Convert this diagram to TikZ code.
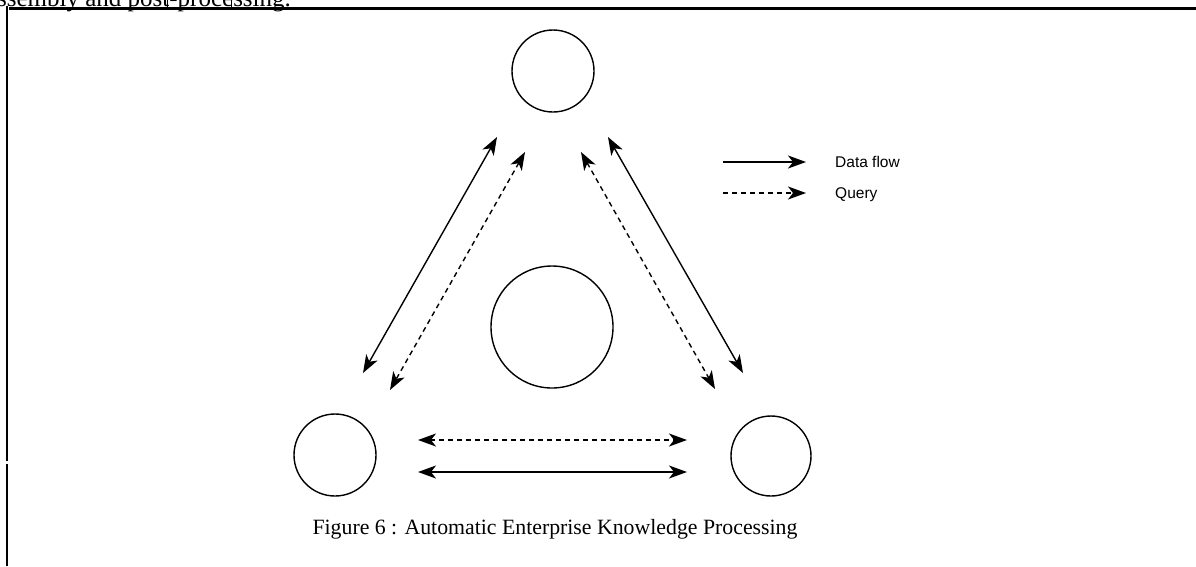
\documentclass[tikz,border=0pt]{standalone}
\usepackage{fontspec}
\setmainfont{Liberation Serif}
\newfontfamily\legendfont{Liberation Sans}
\usetikzlibrary{arrows.meta}
\begin{document}
\begin{tikzpicture}[x=1pt,y=-1pt,
  unit/.style={circle,draw,line width=1.4pt,inner sep=0pt,minimum size=#1},
  tip/.tip={Stealth[length=18pt,width=13pt,inset=5pt]},
  flow/.style={line width=1.4pt,tip-tip},
  query/.style={flow,dash pattern=on 5pt off 4pt},
  legflow/.style={line width=1.3pt,-tip},
  legquery/.style={legflow,dash pattern=on 5pt off 4pt},
  legtext/.style={anchor=base west,inner sep=0pt,font=\legendfont\fontsize{15.5}{15.5}\selectfont},
  frame/.style={line width=2.2pt}
  ]
\useasboundingbox (0,0) rectangle (1196,566);

% running text above the frame
\node[anchor=base west,inner sep=0pt,font=\fontsize{25}{25}\selectfont] (prev) at (-3,6) {ssembly and post-processing.};
\draw[line width=0.8pt] (167,0) -- (167,8);
\draw[line width=0.8pt] (231,0) -- (231,8);

% frame
\draw[frame] (9,8.5) -- (1196,8.5);
\draw[frame] (7,6) -- (7,461);
\draw[frame] (7,464) -- (7,566);

% units
\node[unit=82pt] (top) at (553,71) {};
\node[unit=122pt] (hub) at (552,327) {};
\node[unit=82pt] (bl) at (335,455) {};
\node[unit=80pt] (br) at (771,456) {};

% arrow end points
\coordinate (l1a) at (497,137);
\coordinate (l1b) at (363,373);
\coordinate (l2a) at (525,152);
\coordinate (l2b) at (390,390);
\coordinate (r1a) at (608,137);
\coordinate (r1b) at (743,373);
\coordinate (r2a) at (581,152);
\coordinate (r2b) at (715,389);
\coordinate (h1a) at (418,440);
\coordinate (h1b) at (687,440);
\coordinate (h2a) at (418,472);
\coordinate (h2b) at (687,472);

\draw[flow] (l1a) -- (l1b);
\draw[query] (l2a) -- (l2b);
\draw[flow] (r1a) -- (r1b);
\draw[query] (r2a) -- (r2b);
\draw[query] (h1a) -- (h1b);
\draw[flow] (h2a) -- (h2b);

% legend
\coordinate (k1a) at (723,162);
\coordinate (k1b) at (806,162);
\coordinate (k2a) at (723,193);
\coordinate (k2b) at (806,193);
\draw[legflow] (k1a) -- (k1b);
\draw[legquery] (k2a) -- (k2b);
\node[legtext] (lk1) at (835,167) {Data flow};
\node[legtext] (lk2) at (835,198) {Query};

% caption
\node[anchor=base,inner sep=0pt,font=\fontsize{21.8}{21.8}\selectfont] (cap) at (555,534) {Figure 6 : Automatic Enterprise Knowledge Processing};
\end{tikzpicture}
\end{document}
